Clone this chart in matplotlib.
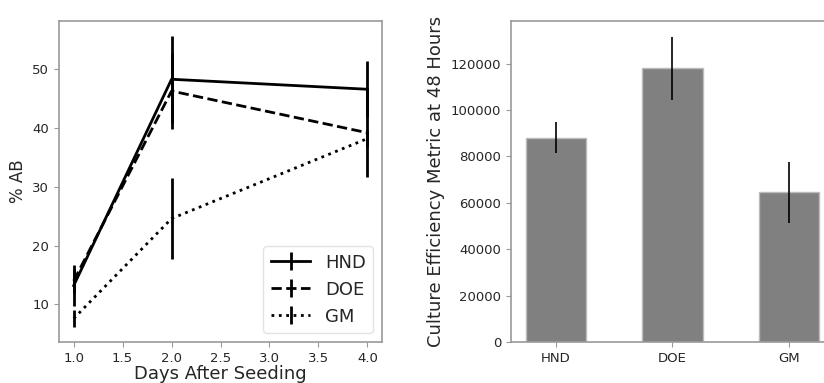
import matplotlib
matplotlib.use("Agg")
import matplotlib.pyplot as plt
import numpy as np

# line chart data: %AB over days after seeding
days = [1.0, 2.0, 4.0]
hnd_ab = [13.2, 48.3, 46.6]
hnd_err = [3.5, 7.4, 4.8]
doe_ab = [14.0, 46.3, 39.2]
doe_err = [2.0, 6.4, 7.6]
gm_ab = [7.6, 24.6, 38.2]
gm_err = [1.4, 6.9, 1.5]

# bar chart data: culture efficiency at 48 h
groups = ["HND", "DOE", "GM"]
eff = [88000, 118000, 64500]
eff_err = [6700, 13500, 13000]

text_col = "#262626"
spine_col = "#999999"

plt.rcParams["text.color"] = text_col
plt.rcParams["axes.labelcolor"] = text_col
plt.rcParams["xtick.color"] = spine_col
plt.rcParams["ytick.color"] = spine_col
plt.rcParams["xtick.labelcolor"] = text_col
plt.rcParams["ytick.labelcolor"] = text_col

fig = plt.figure(figsize=(8.24, 3.83), dpi=100)
ax1 = fig.add_axes([0.0716, 0.107, 0.392, 0.838])
ax2 = fig.add_axes([0.620, 0.107, 0.392, 0.838])

ax1.errorbar(days, hnd_ab, yerr=hnd_err, color="black", lw=2, ls="-", label="HND")
ax1.errorbar(days, doe_ab, yerr=doe_err, color="black", lw=2, ls="--", label="DOE")
ax1.errorbar(days, gm_ab, yerr=gm_err, color="black", lw=2, ls=":", label="GM")
ax1.set_ylim(3.6, 58.2)
ax1.set_xlabel("Days After Seeding", fontsize=13, labelpad=0)
ax1.set_ylabel("% AB", fontsize=12)
ax1.tick_params(labelsize=9.5)
leg = ax1.legend(loc="lower right", fontsize=13, handlelength=2.2)
leg.get_frame().set_edgecolor("#dddddd")

x = np.arange(len(groups))
ax2.bar(x, eff, width=0.52, color="#808080", edgecolor="#bbbbbb", lw=1,
        yerr=eff_err, error_kw=dict(ecolor="black", lw=1.2))
ax2.set_xticks(x)
ax2.set_xticklabels(groups)
ax2.set_xlim(-0.386, 2.386)
ax2.set_ylim(0, 138300)
ax2.set_ylabel("Culture Efficiency Metric at 48 Hours", fontsize=13)
ax2.tick_params(labelsize=9.5)

for ax in (ax1, ax2):
    for sp in ax.spines.values():
        sp.set_color(spine_col)
        sp.set_linewidth(1.2)

fig.savefig("out.png", dpi=100)
